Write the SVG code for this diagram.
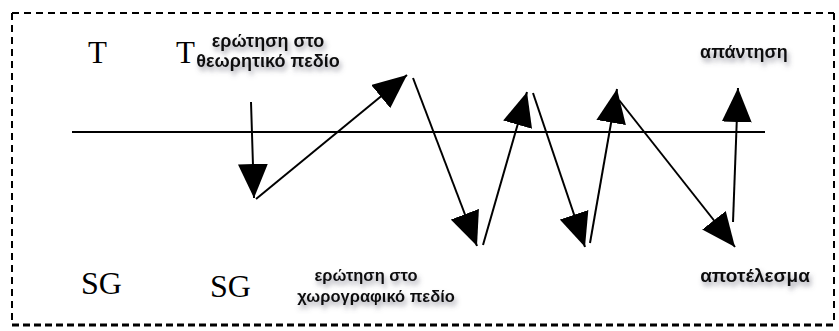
<svg xmlns="http://www.w3.org/2000/svg" width="839" height="331" viewBox="0 0 839 331">
<style>
.frame{stroke:#000;stroke-width:2;fill:none;stroke-dasharray:7 5}
.axis{stroke:#000;stroke-width:2}
.arr{stroke:#000;stroke-width:2;fill:none;marker-end:url(#head)}
.big{font-family:"Liberation Serif","Times New Roman",serif;fill:#000}
.lbl{font-family:"Liberation Sans",Arial,sans-serif;font-weight:bold;font-size:18px;fill:#111;text-anchor:middle;filter:url(#sh)}
</style>
<defs>
<marker id="head" viewBox="0 0 34 30" refX="34" refY="15" markerWidth="34" markerHeight="30" markerUnits="userSpaceOnUse" orient="auto">
<path d="M0,0 L34,15 L0,30 Z" fill="#000"/>
</marker>
<filter id="sh" x="-20%" y="-50%" width="140%" height="200%">
<feDropShadow dx="2" dy="4" stdDeviation="2.5" flood-color="#556" flood-opacity="0.55"/>
</filter>
</defs>
<g id="frame">
<line class="frame" x1="12" y1="13" x2="834" y2="13"/>
<line class="frame" x1="12" y1="13" x2="12" y2="325"/>
<line class="frame" x1="834" y1="13" x2="834" y2="325"/>
<line class="frame" x1="12" y1="325" x2="834" y2="325" style="stroke-width:3;stroke-dasharray:7 4"/>
</g>
<g id="axis"><line class="axis" x1="72" y1="132" x2="765" y2="132"/></g>
<g id="connectors">
<line class="arr" x1="251" y1="102" x2="254" y2="198"/>
<line class="arr" x1="256" y1="199" x2="407" y2="75"/>
<line class="arr" x1="413" y1="78" x2="477" y2="246"/>
<line class="arr" x1="483" y1="245" x2="527" y2="92"/>
<line class="arr" x1="533" y1="93" x2="585" y2="247"/>
<line class="arr" x1="590" y1="243" x2="617" y2="89"/>
<line class="arr" x1="619" y1="100" x2="735" y2="247"/>
<line class="arr" x1="733" y1="222" x2="738" y2="88"/>
</g>
<g id="T1"><text class="big" x="88" y="63" font-size="31">T</text></g>
<g id="T2"><text class="big" x="176" y="63" font-size="31">T</text></g>
<g id="SG1"><text class="big" x="81" y="294" font-size="32">SG</text></g>
<g id="SG2"><text class="big" x="210" y="297" font-size="32">SG</text></g>
<g id="q-theory"><text class="lbl" x="268" y="47">ερώτηση στο</text><text class="lbl" x="268" y="67">θεωρητικό πεδίο</text></g>
<g id="q-chor"><text class="lbl" x="366" y="281" style="font-size:16.5px">ερώτηση στο</text><text class="lbl" x="376" y="302" style="font-size:16.5px">χωρογραφικό πεδίο</text></g>
<g id="answer"><text class="lbl" x="744" y="58">απάντηση</text></g>
<g id="result"><text class="lbl" x="755" y="282" style="font-size:19px">αποτέλεσμα</text></g>
</svg>
